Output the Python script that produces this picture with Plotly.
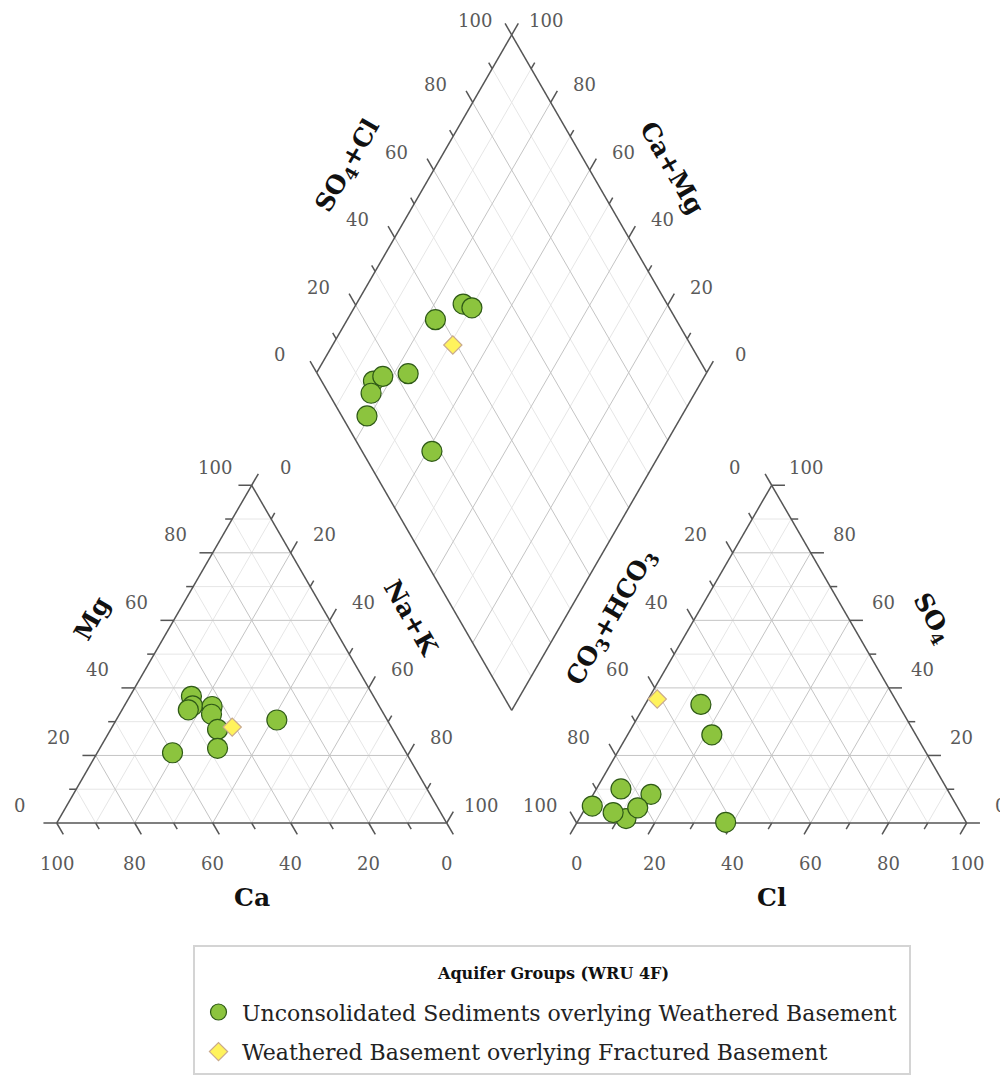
import numpy as np
import plotly.graph_objects as go

# Sample composition in % meq
# Unconsolidated Sediments overlying Weathered Basement
ca = [46.7, 47.8, 49.5, 42.9, 44.2, 44.9, 47.7, 59.9, 28.3]
mg = [37.5, 34.7, 33.5, 34.5, 32.2, 27.7, 22.1, 20.8, 30.5]
na_k = [15.8, 17.5, 17.0, 22.6, 23.6, 27.4, 30.2, 19.3, 41.2]
hco3 = [86.7, 83.6, 89.1, 61.7, 76.7, 52.3, 50.6, 93.5, 82.1]
so4 = [1.3, 10.1, 3.1, 0.2, 8.5, 26.1, 35.1, 5.0, 4.5]
cl = [12.0, 6.3, 7.8, 38.1, 14.8, 21.6, 14.3, 1.5, 13.4]

# Weathered Basement overlying Fractured Basement
ca_wb = [40.8]
mg_wb = [28.4]
na_k_wb = [30.8]
hco3_wb = [61.0]
so4_wb = [36.7]
cl_wb = [2.3]

group_names = [
    "Unconsolidated Sediments overlying Weathered Basement",
    "Weathered Basement overlying Fractured Basement",
]
legend_title = "Aquifer Groups (WRU 4F)"
tick_values = [0, 20, 40, 60, 80, 100]

FONT = "DejaVu Serif"
S3 = np.sqrt(3) / 2
OX = 100 + 100 / 3  # x offset of anion triangle
BX, BY = (100 + OX) / 2, S3 * (OX - 100)  # bottom vertex of diamond
PX = 3.9  # pixels per unit
PAGE = 8  # browser body margin


def cat_xy(c, m, n):
    c, m, n = np.asarray(c, float), np.asarray(m, float), np.asarray(n, float)
    t = c + m + n
    m, n = 100 * m / t, 100 * n / t
    return n + m / 2, S3 * m


def an_xy(h, s, c):
    h, s, c = np.asarray(h, float), np.asarray(s, float), np.asarray(c, float)
    t = h + s + c
    s, c = 100 * s / t, 100 * c / t
    return OX + c + s / 2, S3 * s


def dia_xy(p, q):
    # p = SO4+Cl, q = Na+K
    p, q = np.asarray(p, float), np.asarray(q, float)
    return BX + 0.5 * p - 0.5 * (100 - q), BY + S3 * (p + 100 - q)


def segs(pairs):
    xs, ys = [], []
    for (x0, y0), (x1, y1) in pairs:
        xs += [float(x0), float(x1), None]
        ys += [float(y0), float(y1), None]
    return xs, ys


fig = go.Figure()

# ---- grid lines ----
major, minor = [], []
for v in range(10, 100, 10):
    w = 100 - v
    lines = [
        (cat_xy(v, w, 0), cat_xy(v, 0, w)),  # const Ca
        (cat_xy(w, v, 0), cat_xy(0, v, w)),  # const Mg
        (cat_xy(w, 0, v), cat_xy(0, w, v)),  # const Na+K
        (an_xy(v, w, 0), an_xy(v, 0, w)),  # const HCO3
        (an_xy(w, v, 0), an_xy(0, v, w)),  # const SO4
        (an_xy(w, 0, v), an_xy(0, w, v)),  # const Cl
        (dia_xy(v, 0), dia_xy(v, 100)),  # const SO4+Cl
        (dia_xy(0, v), dia_xy(100, v)),  # const Na+K
    ]
    (major if v % 20 == 0 else minor).extend(lines)

for lines, col in [(minor, "#e6e6e6"), (major, "#c4c4c4")]:
    gx, gy = segs(lines)
    fig.add_trace(go.Scatter(x=gx, y=gy, mode="lines", line=dict(color=col, width=1),
                             hoverinfo="skip", showlegend=False))

# ---- outlines ----
outline = [
    (cat_xy(100, 0, 0), cat_xy(0, 0, 100)), (cat_xy(0, 0, 100), cat_xy(0, 100, 0)),
    (cat_xy(0, 100, 0), cat_xy(100, 0, 0)),
    (an_xy(100, 0, 0), an_xy(0, 0, 100)), (an_xy(0, 0, 100), an_xy(0, 100, 0)),
    (an_xy(0, 100, 0), an_xy(100, 0, 0)),
    (dia_xy(0, 100), dia_xy(0, 0)), (dia_xy(0, 0), dia_xy(100, 0)),
    (dia_xy(100, 0), dia_xy(100, 100)), (dia_xy(100, 100), dia_xy(0, 100)),
]

# ---- ticks and tick labels ----
ticks = []
annotations = []
L_OFF, R_OFF, B_OFF = (-9.5, 4.6), (8.7, 4.6), (0, -10.3)
TOP_L, TOP_R = (-9.5, 3.8), (8.7, 3.8)  # diamond apex labels sit at the page edge


def add_tick(pt, d, v, off):
    ln = 3.4 if v % 20 == 0 else 1.8
    x0, y0 = float(pt[0]), float(pt[1])
    ticks.append(((x0, y0), (x0 + d[0] * ln, y0 + d[1] * ln)))
    if v in tick_values and off is not None:
        annotations.append(dict(x=x0 + off[0], y=y0 + off[1], text=str(v), showarrow=False,
                                borderpad=0,
                                font=dict(family=FONT, size=18, color="#5a5a5a")))


for v in range(0, 101, 10):
    w = 100 - v
    add_tick(cat_xy(v, 0, w), (0.5, -S3), v, B_OFF)  # Ca
    add_tick(cat_xy(w, v, 0), (-1, 0), v, L_OFF)  # Mg
    add_tick(cat_xy(0, w, v), (0.5, S3), v, R_OFF)  # Na+K
    add_tick(an_xy(w, 0, v), (-0.5, -S3), v, B_OFF)  # Cl
    add_tick(an_xy(0, v, w), (1, 0), v, R_OFF)  # SO4
    add_tick(an_xy(v, w, 0), (-0.5, S3), v, L_OFF)  # CO3+HCO3
    add_tick(dia_xy(v, 0), (-0.5, S3), v, TOP_L if v == 100 else L_OFF)  # SO4+Cl
    add_tick(dia_xy(100, w), (0.5, S3), v, TOP_R if v == 100 else R_OFF)  # Ca+Mg

ox_, oy_ = segs(outline + ticks)
fig.add_trace(go.Scatter(x=ox_, y=oy_, mode="lines", line=dict(color="#555555", width=1.5),
                         hoverinfo="skip", showlegend=False))

# ---- data points ----
groups = [
    (ca, mg, na_k, hco3, so4, cl, dict(symbol="circle", size=20, color="#8cc43e",
                                       line=dict(color="#2f5a17", width=1.2))),
    (ca_wb, mg_wb, na_k_wb, hco3_wb, so4_wb, cl_wb, dict(symbol="diamond", size=14, color="#fff35c",
                                                         line=dict(color="#c9a98c", width=1.2))),
]
labels = [group_names[0] + "&nbsp;", group_names[1]]
for name, (c, m, n, h, s, l, mk) in zip(labels, groups):
    cx, cy = cat_xy(c, m, n)
    axx, ay = an_xy(h, s, l)
    p = np.asarray(s) + np.asarray(l)
    q = 100 * np.asarray(n) / (np.asarray(c) + np.asarray(m) + np.asarray(n))
    dx, dy = dia_xy(p, q)
    fig.add_trace(go.Scatter(
        x=np.concatenate([cx, axx, dx]), y=np.concatenate([cy, ay, dy]),
        mode="markers", marker=mk, name=name, legendgroup=name,
    ))


# ---- axis titles ----
def edge_title(p0, p1, text, angle, dist=18.5):
    mx, my = (p0[0] + p1[0]) / 2, (p0[1] + p1[1]) / 2
    ex, ey = p1[0] - p0[0], p1[1] - p0[1]
    nrm = np.hypot(ex, ey)
    nx, ny = -ey / nrm, ex / nrm
    annotations.append(dict(x=float(mx + nx * dist), y=float(my + ny * dist), text=f"<b>{text}</b>",
                            textangle=angle, showarrow=False,
                            font=dict(family=FONT, size=25, color="#111111")))


edge_title(cat_xy(100, 0, 0), cat_xy(0, 100, 0), "Mg", -60)
edge_title(cat_xy(0, 100, 0), cat_xy(0, 0, 100), "Na+K", 60)
edge_title(an_xy(100, 0, 0), an_xy(0, 100, 0), "CO<sub>3</sub>+HCO<sub>3</sub>", -60)
edge_title(an_xy(0, 100, 0), an_xy(0, 0, 100), "SO<sub>4</sub>", 60)
edge_title(dia_xy(0, 0), dia_xy(100, 0), "SO<sub>4</sub>+Cl", -60, dist=19.5)
edge_title(dia_xy(100, 0), dia_xy(100, 100), "Ca+Mg", 60)
edge_title(cat_xy(0, 0, 100), cat_xy(100, 0, 0), "Ca", 0, dist=19.2)
edge_title(an_xy(0, 0, 100), an_xy(100, 0, 0), "Cl", 0, dist=19.2)

W, H = 1008, 1081
x0_px, y0_px = 56.7 - PAGE, 823 - PAGE

# legend title drawn as annotation so the spacing above the entries matches
annotations.append(dict(xref="paper", yref="paper", x=(553 - PAGE) / W, y=1 - (973 - PAGE) / H,
                        xanchor="center", yanchor="middle",
                        text=f"<b>{legend_title}</b>", showarrow=False,
                        font=dict(family=FONT, size=16, color="#111111")))

fig.update_layout(
    width=W, height=H,
    margin=dict(l=0, r=0, t=0, b=0),
    paper_bgcolor="white", plot_bgcolor="white",
    xaxis=dict(range=[-x0_px / PX, (W - x0_px) / PX], visible=False, fixedrange=True),
    yaxis=dict(range=[-(H - y0_px) / PX, y0_px / PX], visible=False, fixedrange=True),
    annotations=annotations,
    showlegend=True,
    legend=dict(
        x=(193 - PAGE) / W, y=1 - (945 - PAGE) / H, xanchor="left", yanchor="top",
        bgcolor="white", bordercolor="#d4d4d4", borderwidth=2,
        font=dict(family=FONT, size=22, color="#222222"),
        title=dict(text="&nbsp;<br>&nbsp;", side="top",
                   font=dict(family=FONT, size=17, color="#111111")),
        itemwidth=37,
        tracegroupgap=8,
    ),
)

fig.write_html("out.html")
